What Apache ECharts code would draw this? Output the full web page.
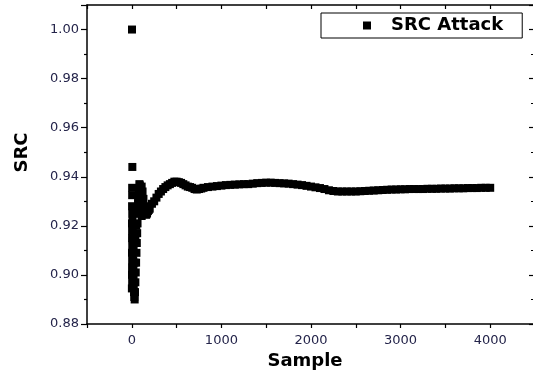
<!DOCTYPE html>
<html>
<head>
<meta charset="utf-8">
<script src="https://cdn.jsdelivr.net/npm/echarts@6/dist/echarts.min.js"></script>
<style>html,body{margin:0;padding:0;background:#fff}#c{width:533px;height:375px}</style>
</head>
<body>
<div id="c"></div>
<script>
// Sample index of each plotted point
var samples = [
  2, 6, 4, 4, 3, 5, 2, 4, 3, 5, 2, 4, 3, 2, 4, 1,
  8, 10, 12, 14, 16, 18, 20, 22, 25, 28, 32, 36, 40, 44, 48, 52, 56, 60, 64, 68, 72, 76, 80, 85, 90, 95, 100, 105, 110,
  20, 30, 40, 50, 60, 70, 80, 90, 100, 110, 120, 130, 140, 150, 160, 170, 180, 190,
  125, 150, 175, 200, 225, 250, 275, 300, 325, 350, 375, 400, 425, 450, 475, 500, 525, 550, 575, 600, 625, 650, 675, 700, 725, 750, 775, 800,
  850, 900, 950, 1000, 1050, 1100, 1150, 1200, 1250, 1300, 1350, 1400, 1450, 1500, 1550, 1600, 1650, 1700, 1750, 1800, 1850, 1900, 1950, 2000,
  2050, 2100, 2150, 2200, 2250, 2300, 2350, 2400, 2450, 2500, 2550, 2600, 2650, 2700, 2750, 2800, 2850, 2900, 2950, 3000,
  3050, 3100, 3150, 3200, 3250, 3300, 3350, 3400, 3450, 3500, 3550, 3600, 3650, 3700, 3750, 3800, 3850, 3900, 3950, 4000
];
// SRC value of each plotted point
var src = [
  1.000, 0.944, 0.9355, 0.9325, 0.928, 0.925, 0.921, 0.918, 0.915, 0.912, 0.909, 0.906, 0.903, 0.900, 0.897, 0.8945,
  0.922, 0.918, 0.914, 0.910, 0.906, 0.902, 0.899, 0.896, 0.893, 0.891, 0.890, 0.893, 0.897, 0.901, 0.905, 0.909, 0.913, 0.917, 0.921, 0.925, 0.929, 0.932, 0.935, 0.937, 0.9365, 0.934, 0.930, 0.926, 0.924,
  0.912, 0.905, 0.915, 0.920, 0.926, 0.930, 0.925, 0.928, 0.933, 0.936, 0.934, 0.931, 0.928, 0.9255, 0.9245, 0.925, 0.926, 0.9265,
  0.928, 0.926, 0.9265, 0.927, 0.929, 0.930, 0.9315, 0.933, 0.934, 0.935, 0.9358, 0.9365, 0.937, 0.9375, 0.938, 0.938, 0.9378, 0.9375, 0.937, 0.9365, 0.936, 0.9358, 0.9355, 0.935, 0.9348, 0.935, 0.9352, 0.9355,
  0.9358, 0.936, 0.9362, 0.9364, 0.9366, 0.9367, 0.9368, 0.9369, 0.937, 0.937, 0.9372, 0.9374, 0.9375, 0.9376, 0.9376, 0.9375, 0.9374, 0.9373, 0.9372, 0.937, 0.9368, 0.9366, 0.9363, 0.936,
  0.9357, 0.9354, 0.935, 0.9345, 0.9342, 0.934, 0.934, 0.934, 0.934, 0.934, 0.9341, 0.9342, 0.9343, 0.9344, 0.9345, 0.9346, 0.9347, 0.9348, 0.9348, 0.9349,
  0.9349, 0.935, 0.935, 0.935, 0.935, 0.9351, 0.9351, 0.9351, 0.9352, 0.9352, 0.9352, 0.9353, 0.9353, 0.9353, 0.9354, 0.9354, 0.9354, 0.9355, 0.9355, 0.9355
];
var xTickLabels = ['0', '1000', '2000', '3000', '4000'];
var yTickLabels = ['0.88', '0.90', '0.92', '0.94', '0.96', '0.98', '1.00'];
var seriesName = 'SRC Attack';

var points = samples.map(function (s, i) { return [s, src[i]]; });
var labelFont = 'DejaVu Sans';
var tickColor = '#24244a';

var chart = echarts.init(document.getElementById('c'), null, {renderer: 'canvas'});
chart.setOption({
  animation: false,
  backgroundColor: '#fff',
  grid: {left: 87, top: 5, right: -2, bottom: 51, containLabel: false, outerBoundsMode: 'none'},
  legend: {
    data: [{name: seriesName, icon: 'rect'}],
    left: 321, top: 13,
    itemWidth: 8, itemHeight: 8,
    borderColor: '#000', borderWidth: 1, borderRadius: 0,
    padding: [3, 19, 3, 42],
    textStyle: {fontFamily: labelFont, fontWeight: 'bold', fontSize: 18, color: '#000', padding: [0, 0, 0, 15], lineHeight: 19}
  },
  xAxis: [{
    type: 'value', position: 'bottom', min: -500, max: 4500, interval: 500,
    axisLine: {onZero: false, lineStyle: {color: '#000', width: 1.5}},
    axisTick: {inside: false, length: 4, lineStyle: {color: '#000', width: 1.2}},
    splitLine: {show: false},
    axisLabel: {
      margin: 10, fontFamily: labelFont, fontSize: 13, color: tickColor,
      formatter: function (v) { var s = String(Math.round(v)); return xTickLabels.indexOf(s) >= 0 ? s : ''; }
    },
    name: 'Sample', nameLocation: 'middle', nameGap: 28,
    nameTextStyle: {fontFamily: labelFont, fontWeight: 'bold', fontSize: 18, color: '#000', padding: [0, 12, 0, 0]}
  }, {
    type: 'value', position: 'top', min: -500, max: 4500, interval: 500,
    axisLine: {onZero: false, lineStyle: {color: '#000', width: 1.5}},
    axisTick: {inside: true, length: 4, lineStyle: {color: '#000', width: 1.2}},
    axisLabel: {show: false}, splitLine: {show: false}
  }],
  yAxis: [{
    type: 'value', position: 'left', min: 0.88, max: 1.01, interval: 0.02,
    axisLine: {onZero: false, lineStyle: {color: '#000', width: 1.5}},
    axisTick: {inside: false, length: 6, lineStyle: {color: '#000', width: 1.2}},
    minorTick: {show: true, splitNumber: 2, length: 3, lineStyle: {color: '#000', width: 1.2}},
    splitLine: {show: false}, minorSplitLine: {show: false},
    axisLabel: {
      margin: 8, fontFamily: labelFont, fontSize: 13, color: tickColor, showMaxLabel: false,
      formatter: function (v) { var s = v.toFixed(2); return yTickLabels.indexOf(s) >= 0 ? s : ''; }
    },
    name: 'SRC', nameLocation: 'middle', nameGap: 56, nameRotate: 90,
    nameTextStyle: {fontFamily: labelFont, fontWeight: 'bold', fontSize: 18, color: '#000', padding: [0, 0, 0, 24]}
  }, {
    type: 'value', position: 'right', min: 0.88, max: 1.01, interval: 0.02,
    axisLine: {onZero: false, lineStyle: {color: '#000', width: 1.5}},
    axisTick: {inside: true, length: 6, lineStyle: {color: '#000', width: 1.2}},
    minorTick: {show: true, splitNumber: 2, length: 4, lineStyle: {color: '#000', width: 1.2}},
    axisLabel: {show: false}, splitLine: {show: false}, minorSplitLine: {show: false}
  }],
  series: [{
    name: seriesName, type: 'scatter', symbol: 'rect', symbolSize: 8,
    itemStyle: {color: '#000', opacity: 1},
    data: points
  }]
});
</script>
</body>
</html>
